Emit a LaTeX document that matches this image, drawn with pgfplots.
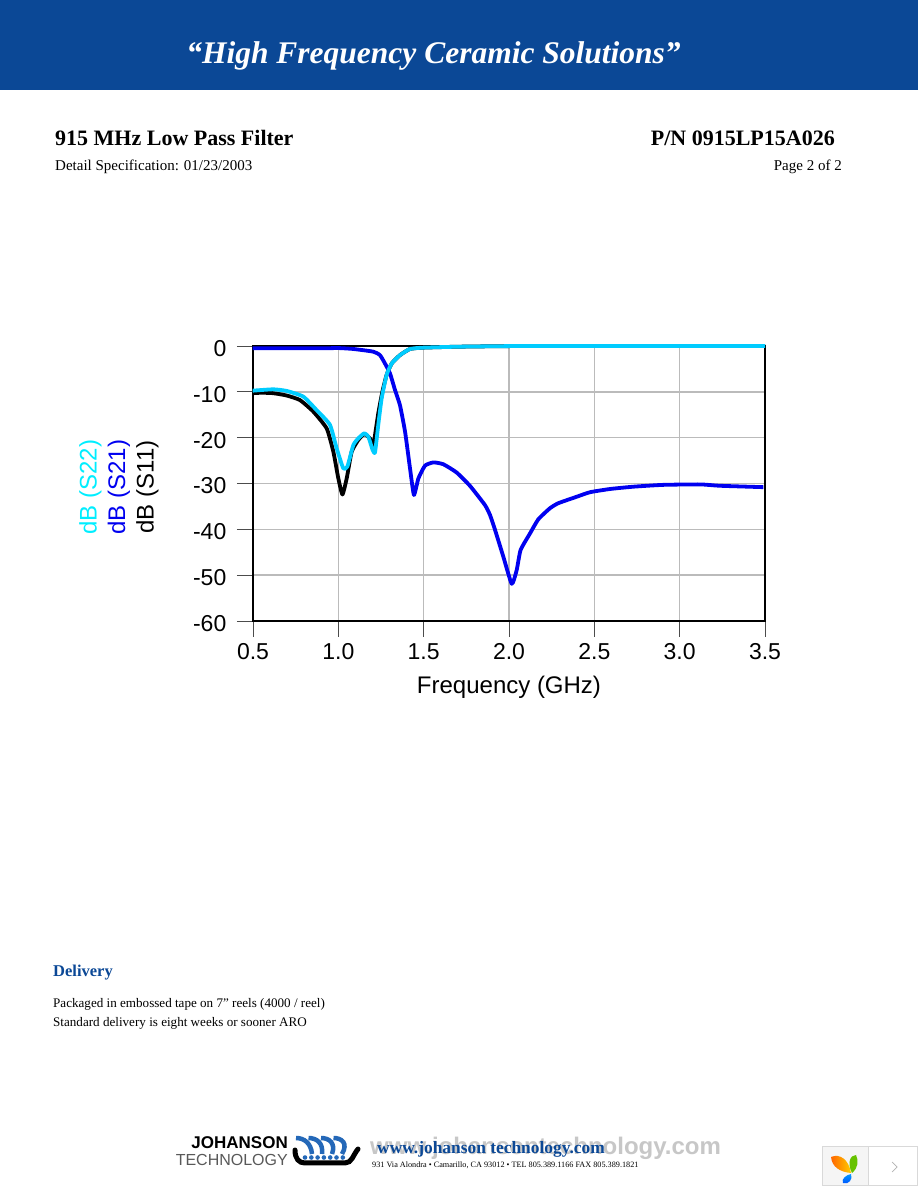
\documentclass[border=0pt]{standalone}
\usepackage{fontspec}
\setmainfont{Liberation Serif}
\newfontfamily\arial{Liberation Sans}
\usepackage{pgfplots}
\pgfplotsset{compat=1.18}
\usepackage{pgfplotstable}
\definecolor{banner}{HTML}{0B4896}
\definecolor{gridgray}{HTML}{BBBBBB}
\definecolor{scyan}{HTML}{00CCFF}
\definecolor{labelcyan}{HTML}{00EEFF}
\definecolor{sblue}{HTML}{0000F0}
\definecolor{shipblue}{HTML}{2468B8}

% values: GHz, dB
\pgfplotstableread{
f db
0.498 -10.3
0.55 -10.2
0.619 -10.3
0.697 -10.8
0.775 -11.8
0.853 -14.3
0.932 -18.0
0.971 -23.1
1.000 -28.9
1.024 -32.4
1.049 -28.9
1.078 -23.1
1.117 -20.5
1.152 -19.2
1.186 -20.2
1.205 -21.6
1.234 -14.7
1.258 -10.0
1.283 -6.3
1.313 -3.8
1.361 -2.0
1.420 -0.65
1.498 -0.36
1.713 -0.15
2.120 0.0
3.500 0.0
}\sone
\pgfplotstableread{
f db
0.498 -0.5
0.700 -0.5
0.912 -0.5
1.000 -0.45
1.088 -0.65
1.205 -1.24
1.244 -2.0
1.273 -3.8
1.303 -6.0
1.332 -9.6
1.361 -12.9
1.391 -18.7
1.420 -26.7
1.443 -32.5
1.469 -28.9
1.508 -26.1
1.557 -25.4
1.615 -25.8
1.693 -27.6
1.771 -30.5
1.859 -34.7
1.889 -36.9
1.918 -40.1
1.967 -46.0
2.016 -51.9
2.045 -48.9
2.068 -44.5
2.123 -40.9
2.172 -37.8
2.240 -35.4
2.289 -34.3
2.396 -32.9
2.475 -31.9
2.592 -31.2
2.728 -30.7
2.904 -30.3
3.120 -30.2
3.237 -30.5
3.490 -30.8
}\stwo
\pgfplotstableread{
f db
0.498 -9.75
0.619 -9.45
0.697 -9.8
0.795 -11.05
0.873 -14.0
0.951 -17.2
0.990 -22.3
1.029 -26.7
1.053 -26.3
1.088 -21.6
1.117 -20.15
1.152 -19.05
1.176 -19.8
1.201 -22.7
1.215 -23.2
1.234 -17.2
1.254 -11.4
1.283 -6.3
1.313 -3.8
1.361 -2.0
1.420 -0.65
1.498 -0.36
1.713 -0.15
2.120 0.0
3.500 0.0
}\stwotwo

\begin{document}
\begin{tikzpicture}[x=1pt,y=1pt,every node/.style={inner sep=0pt}]
\useasboundingbox (0,0) rectangle (918,1188);
\fill[white] (0,0) rectangle (918,1188);
% header
\fill[banner] (0,1098) rectangle (918,1188);
\node[text=white,anchor=center,font=\fontsize{31.5}{31.5}\selectfont\bfseries\itshape] at (433.5,1132) {“High Frequency Ceramic Solutions”};
\node[anchor=west,font=\fontsize{22}{22}\selectfont\bfseries] at (55,1050) {915 MHz Low Pass Filter};
\node[anchor=east,font=\fontsize{22}{22}\selectfont\bfseries] at (835,1050) {P/N 0915LP15A026};
\node[anchor=west,font=\fontsize{15}{15}\selectfont] at (55,1021) {Detail Specification: 01/23/2003};
\node[anchor=east,font=\fontsize{15}{15}\selectfont] at (842,1021) {Page 2 of 2};

\begin{axis}[
    at={(253pt,567pt)},anchor=south west,
    scale only axis,width=512pt,height=275pt,
    xmin=0.5,xmax=3.5,ymin=-60,ymax=0,
    xtick={0.5,1,1.5,2,2.5,3,3.5},
    xticklabels={0.5,1.0,1.5,2.0,2.5,3.0,3.5},
    ytick={-60,-50,-40,-30,-20,-10,0},
    yticklabels={-60,-50,-40,-30,-20,-10,0},
    tick align=outside,major tick length=16pt,
    tick style={black!70,line width=0.7pt},
    xtick pos=bottom,ytick pos=left,
    grid=major,grid style={gridgray,line width=1.4pt},
    axis line style={black,line width=1.5pt},
    tick label style={font=\fontsize{23}{23}\selectfont\arial,inner sep=3.5pt},
    xticklabel style={yshift=-3pt},
    yticklabel style={yshift=-2.5pt,xshift=-7pt},
    xlabel={Frequency (GHz)},
    xlabel style={font=\fontsize{24}{24}\selectfont\arial,at={(axis description cs:0.5,-0.24)},anchor=center},
    ylabel={{\color{labelcyan}dB (S22)}\\{\color{sblue}dB (S21)}\\dB (S11)},
    ylabel style={font=\fontsize{24}{28.5}\selectfont\arial,align=center,at={(axis description cs:-0.262,0.487)},anchor=center},
    clip=false,
    every axis plot/.append style={line width=3.8pt,line join=round,no marks,smooth,tension=0.3},
]
\addplot[black] table[x=f,y=db] {\sone};
\addplot[sblue] table[x=f,y=db] {\stwo};
\addplot[scyan] table[x=f,y=db] {\stwotwo};
\end{axis}

% delivery block
\node[anchor=west,text=banner,font=\fontsize{16.5}{16.5}\selectfont\bfseries] at (53,215.5) {Delivery};
\node[anchor=west,font=\fontsize{13.1}{13.1}\selectfont] at (53,184) {Packaged in embossed tape on 7” reels (4000 / reel)};
\node[anchor=west,font=\fontsize{13.1}{13.1}\selectfont] at (53,165) {Standard delivery is eight weeks or sooner ARO};

% footer logo
\node[anchor=east,font=\fontsize{17}{17}\selectfont\arial\bfseries] at (288,45) {JOHANSON};
\node[anchor=east,text=black!65,font=\fontsize{16}{16}\selectfont\arial] at (288,28) {TECHNOLOGY};
\foreach \i in {0,1,2,3}
  \draw[shipblue,line width=4.5pt] (296+12.5*\i,50) .. controls (304+12.5*\i,50) and (311+12.5*\i,45) .. (312+10*\i,34);
\draw[black,line width=5pt,line cap=round] (295,38) .. controls (295,29) and (299,25) .. (305,25) -- (345,25) .. controls (352,25) and (353,33) .. (358,39);
\foreach \i in {0,...,6}
  \fill[shipblue] (305+6.3*\i,30.5) circle (2.3);
\node[anchor=west,text=black!22,font=\fontsize{24}{24}\selectfont\arial\bfseries] at (370,40) {www.johansontechnology.com};
\node[anchor=west,text=banner,font=\fontsize{17.4}{17.4}\selectfont\bfseries] at (377,39) {www.johanson technology.com};
\node[anchor=west,font=\fontsize{8.2}{8.2}\selectfont] at (372,23) {931 Via Alondra • Camarillo, CA 93012 • TEL 805.389.1166  FAX 805.389.1821};

% corner widget
\draw[black!15,fill=black!4,line width=0.8pt] (822.5,3) rectangle (868,42);
\draw[black!15,fill=white,line width=0.8pt] (868,3) rectangle (917.5,42);
\draw[black!30,line width=0.7pt] (892,26) -- (897,21) -- (892,16);
\shade[left color=orange!80!red,right color=yellow!60!orange] (831,31) .. controls (840,35) and (849,28) .. (851,15) .. controls (840,16) and (832,21) .. (831,31);
\fill[green!60!black!60!yellow] (856,33) .. controls (850,33) and (847,25) .. (852,15) .. controls (858,20) and (859,27) .. (856,33);
\shade[top color=cyan!60!blue,bottom color=blue!70!cyan] (851,14) .. controls (846,13) and (841,9) .. (843,5) .. controls (849,3) and (853,9) .. (851,14);
\end{tikzpicture}
\end{document}
